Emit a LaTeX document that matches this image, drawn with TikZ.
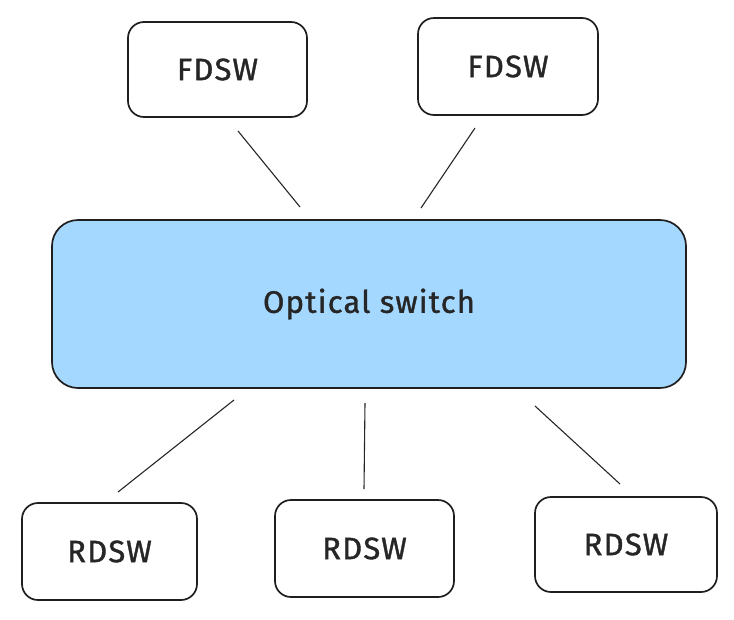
\documentclass[tikz,border=0pt]{standalone}
\usepackage{fontspec}
\setmainfont{Fira Sans}[LetterSpace=4,FakeBold=1.2]
\begin{document}
\begin{tikzpicture}[x=1pt,y=-1pt,
  boxstyle/.style={draw=black!88, line width=1.7pt, rounded corners=16pt, fill=white, align=center, font=\fontsize{31}{36}\selectfont, text=black!85},
  conn/.style={draw=black!85, line width=1.1pt}]
\useasboundingbox (0,0) rectangle (734,619);
\node[boxstyle, minimum width=179pt, minimum height=95pt] (f1) at (217.5,69.5) {FDSW};
\node[boxstyle, minimum width=180pt, minimum height=97pt] (f2) at (508,66.5) {FDSW};
\node[boxstyle, fill={rgb,255:red,165;green,216;blue,255}, minimum width=634pt, minimum height=168pt, rounded corners=26pt] (os) at (369,304) {Optical switch};
\node[boxstyle, minimum width=175pt, minimum height=97pt] (r1) at (109.5,551.5) {RDSW};
\node[boxstyle, minimum width=179pt, minimum height=97pt] (r2) at (364.5,548.5) {RDSW};
\node[boxstyle, minimum width=182pt, minimum height=95pt] (r3) at (626,544.5) {RDSW};
\coordinate (a1) at (238,131); \coordinate (b1) at (300,207);
\coordinate (a2) at (475,128); \coordinate (b2) at (421,208);
\coordinate (a3) at (234,400); \coordinate (b3) at (118,492);
\coordinate (a4) at (365,403); \coordinate (b4) at (364,489);
\coordinate (a5) at (535,406); \coordinate (b5) at (620,484);
\draw[conn] (a1) -- (b1);
\draw[conn] (a2) -- (b2);
\draw[conn] (a3) -- (b3);
\draw[conn] (a4) -- (b4);
\draw[conn] (a5) -- (b5);
\end{tikzpicture}
\end{document}
